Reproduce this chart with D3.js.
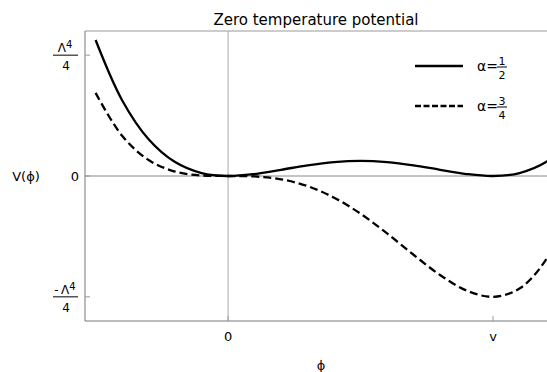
<!DOCTYPE html>
<html>
<head>
<meta charset="utf-8">
<script src="https://cdn.jsdelivr.net/npm/d3@7"></script>
<style>
body { margin: 0; background: #fff; }
text { font-family: "DejaVu Sans", sans-serif; fill: #000; }
</style>
</head>
<body>
<svg width="547" height="372"></svg>
<script>
// phi in units of v, V in units of Lambda^4
var phi = [-0.5, -0.4, -0.3, -0.2, -0.1, 0, 0.1, 0.2, 0.3, 0.4, 0.5, 0.6, 0.7, 0.8, 0.9, 1.0, 1.1, 1.2, 1.3];
var vHalf = [0.2813, 0.1568, 0.0761, 0.0288, 0.0061, 0, 0.0041, 0.0128, 0.0221, 0.0288, 0.0313, 0.0288, 0.0221, 0.0128, 0.0041, 0, 0.0061, 0.0288, 0.0761];
var vThreeQuarter = [0.1719, 0.0832, 0.0331, 0.0092, 0.0011, 0, -0.0009, -0.0068, -0.0209, -0.0448, -0.0781, -0.1188, -0.1629, -0.2048, -0.2369, -0.25, -0.2329, -0.1728, -0.0549];
var xTicks = [0, 1];
var xTickLabels = ['0', 'v'];
var yTicks = [0.25, 0, -0.25];

var svg = d3.select('svg');

var scaleX = d3.scaleLinear().domain([-0.54, 1.2075]).range([85, 548]);
var scaleY = d3.scaleLinear().domain([-0.3, 0.3]).range([321, 31]);

svg.append('defs').append('clipPath').attr('id', 'clip')
    .append('rect').attr('x', 85).attr('y', 31).attr('width', 470).attr('height', 290);

// frame
svg.append('line').attr('x1', 85).attr('x2', 547).attr('y1', 31).attr('y2', 31)
    .attr('stroke', '#999').attr('stroke-width', 1);
svg.append('line').attr('x1', 85).attr('x2', 85).attr('y1', 31).attr('y2', 321)
    .attr('stroke', '#777').attr('stroke-width', 1);
svg.append('line').attr('x1', 85).attr('x2', 547).attr('y1', 321).attr('y2', 321)
    .attr('stroke', '#777').attr('stroke-width', 1);

// zero axes
svg.append('line').attr('x1', 85).attr('x2', 547)
    .attr('y1', scaleY(0)).attr('y2', scaleY(0))
    .attr('stroke', '#888').attr('stroke-width', 1);
svg.append('line').attr('x1', scaleX(0)).attr('x2', scaleX(0))
    .attr('y1', 31).attr('y2', 321)
    .attr('stroke', '#aaa').attr('stroke-width', 1);

// ticks
svg.selectAll('.xt').data(xTicks).enter().append('line')
    .attr('x1', function (d) { return scaleX(d); })
    .attr('x2', function (d) { return scaleX(d); })
    .attr('y1', 321).attr('y2', 316)
    .attr('stroke', '#999');
svg.selectAll('.xl').data(xTicks).enter().append('text')
    .attr('x', function (d) { return scaleX(d); })
    .attr('y', 341)
    .attr('text-anchor', 'middle')
    .attr('font-size', 13)
    .text(function (d, i) { return xTickLabels[i]; });

svg.selectAll('.yt').data(yTicks).enter().append('line')
    .attr('x1', 85).attr('x2', 90)
    .attr('y1', function (d) { return scaleY(d); })
    .attr('y2', function (d) { return scaleY(d); })
    .attr('stroke', '#999');

// y tick labels
svg.append('text').attr('x', 79).attr('y', scaleY(0) + 5)
    .attr('text-anchor', 'end').attr('font-size', 13).text('0');

function fracLabel(y, num) {
    svg.append('text').attr('x', 65).attr('y', y - 3)
        .attr('text-anchor', 'middle').attr('font-size', 12)
        .html(num + '<tspan font-size="10" dy="-4">4</tspan>');
    svg.append('line').attr('x1', 53).attr('x2', 78).attr('y1', y).attr('y2', y)
        .attr('stroke', '#000').attr('stroke-width', 1);
    svg.append('text').attr('x', 66).attr('y', y + 15)
        .attr('text-anchor', 'middle').attr('font-size', 12).text('4');
}
fracLabel(scaleY(0.25), 'Λ');
fracLabel(scaleY(-0.25), '-\u2009Λ');

// curves
var line = d3.line()
    .x(function (d) { return scaleX(d[0]); })
    .y(function (d) { return scaleY(d[1]); })
    .curve(d3.curveCatmullRom);

var g = svg.append('g').attr('clip-path', 'url(#clip)');
g.append('path')
    .datum(phi.map(function (p, i) { return [p, vHalf[i]]; }))
    .attr('d', line)
    .attr('fill', 'none').attr('stroke', '#000').attr('stroke-width', 2.3);
g.append('path')
    .datum(phi.map(function (p, i) { return [p, vThreeQuarter[i]]; }))
    .attr('d', line)
    .attr('fill', 'none').attr('stroke', '#000').attr('stroke-width', 2.3)
    .attr('stroke-dasharray', '8,4');

// legend
var legend = [{num: '1', den: '2', dash: null, y: 66}, {num: '3', den: '4', dash: '6,2.5', y: 106}];
legend.forEach(function (d) {
    svg.append('line').attr('x1', 415).attr('x2', 463).attr('y1', d.y).attr('y2', d.y)
        .attr('stroke', '#000').attr('stroke-width', 2.3)
        .attr('stroke-dasharray', d.dash);
    svg.append('text').attr('x', 477).attr('y', d.y + 5)
        .attr('font-size', 14).text('α=');
    svg.append('text').attr('x', 502).attr('y', d.y - 1)
        .attr('text-anchor', 'middle').attr('font-size', 11).text(d.num);
    svg.append('line').attr('x1', 497).attr('x2', 507).attr('y1', d.y + 1).attr('y2', d.y + 1)
        .attr('stroke', '#000').attr('stroke-width', 1);
    svg.append('text').attr('x', 502).attr('y', d.y + 13)
        .attr('text-anchor', 'middle').attr('font-size', 11).text(d.den);
});

// titles
svg.append('text').attr('x', 316).attr('y', 25)
    .attr('text-anchor', 'middle').attr('font-size', 15)
    .text('Zero temperature potential');
svg.append('text').attr('x', 26).attr('y', 181)
    .attr('text-anchor', 'middle').attr('font-size', 13)
    .text('V(ϕ)');
svg.append('text').attr('x', 321).attr('y', 370)
    .attr('text-anchor', 'middle').attr('font-size', 13)
    .text('ϕ');
</script>
</body>
</html>
